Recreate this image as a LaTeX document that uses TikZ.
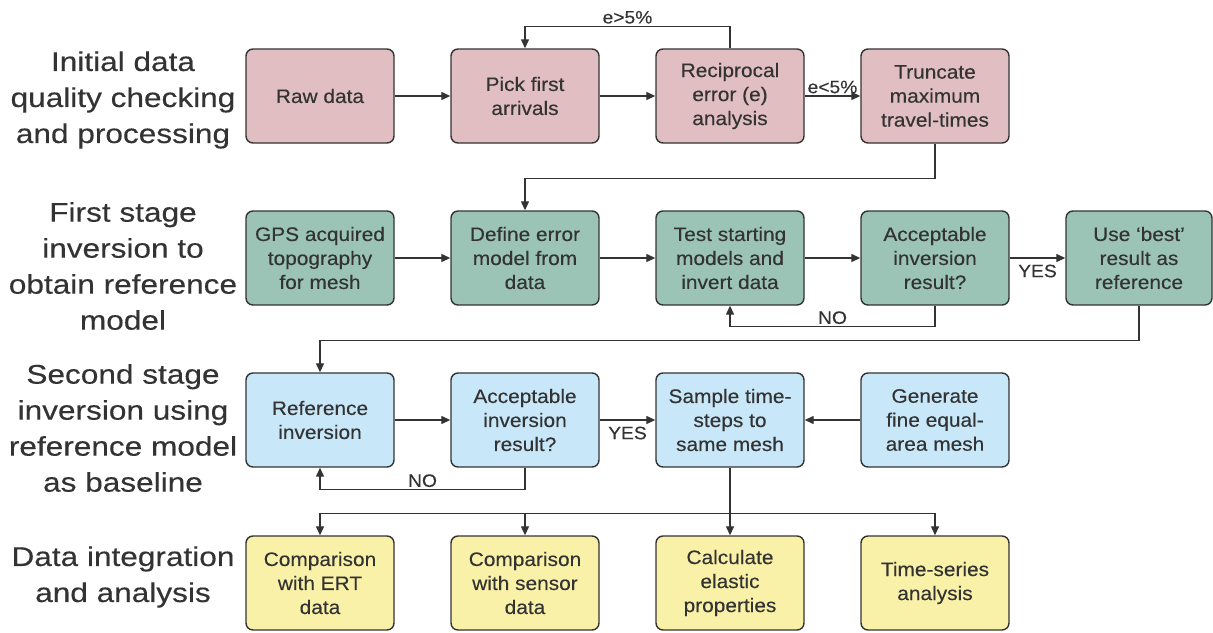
\documentclass[tikz,border=0pt]{standalone}
\usepackage{fontspec}
\setmainfont{Liberation Sans}[FakeStretch=1.07, FakeBold=0.25]
\newfontfamily\labfont{Liberation Sans}[FakeStretch=1.17, FakeBold=0.3]
\usetikzlibrary{arrows.meta}
\definecolor{linec}{HTML}{333333}
\definecolor{txt}{HTML}{333333}
\definecolor{pinkf}{HTML}{E0BEC1}
\definecolor{greenf}{HTML}{9BC4B7}
\definecolor{bluef}{HTML}{C8E7F8}
\definecolor{yellowf}{HTML}{FAF1A8}
\tikzset{
  box/.style={draw=linec, line width=1.4pt, rounded corners=7pt,
    minimum width=148pt, minimum height=94pt, align=center, text=txt,
    inner sep=0pt, font=\fontsize{19.5}{24}\selectfont},
  pinkbox/.style={box, fill=pinkf},
  greenbox/.style={box, fill=greenf},
  bluebox/.style={box, fill=bluef},
  yellowbox/.style={box, fill=yellowf},
  arr/.style={draw=linec, line width=1.3pt, -{Triangle[length=9pt,width=8pt]}},
  lab/.style={text=txt, font=\fontsize{18}{20}\selectfont, inner sep=2pt},
  rowlab/.style={text=txt, align=center, font=\labfont\fontsize{27}{36}\selectfont, inner sep=0pt},
}
\begin{document}
\begin{tikzpicture}[x=1pt,y=-1pt]
\useasboundingbox (0,0) rectangle (1213,632);
% row labels
\node[rowlab] (L1) at (123,100) {Initial data\\quality checking\\and processing};
\node[rowlab] (L2) at (123,266) {First stage\\inversion to\\obtain reference\\model};
\node[rowlab] (L3) at (123,428) {Second stage\\inversion using\\reference model\\as baseline};
\node[rowlab] (L4) at (123,577) {Data integration\\and analysis};
% row 1
\node[pinkbox] (raw) at (320,96) {Raw data};
\node[pinkbox] (pick) at (525,96) {Pick first\\arrivals};
\node[pinkbox] (recip) at (730,96) {Reciprocal\\error (e)\\analysis};
\node[pinkbox] (trunc) at (935,96) {Truncate\\maximum\\travel-times};
% row 2
\node[greenbox] (gps) at (320,258) {GPS acquired\\topography\\for mesh};
\node[greenbox] (define) at (525,258) {Define error\\model from\\data};
\node[greenbox] (test) at (730,258) {Test starting\\models and\\invert data};
\node[greenbox] (acc1) at (935,258) {Acceptable\\inversion\\result?};
\node[greenbox, minimum width=146pt] (best) at (1139,258) {Use ‘best’\\result as\\reference};
% row 3
\node[bluebox] (ref) at (320,420) {Reference\\inversion};
\node[bluebox] (acc2) at (525,420) {Acceptable\\inversion\\result?};
\node[bluebox] (sample) at (730,420) {Sample time-\\steps to\\same mesh};
\node[bluebox] (gen) at (935,420) {Generate\\fine equal-\\area mesh};
% row 4
\node[yellowbox] (ert) at (320,583) {Comparison\\with ERT\\data};
\node[yellowbox] (sensor) at (525,583) {Comparison\\with sensor\\data};
\node[yellowbox] (calc) at (730,583) {Calculate\\elastic\\properties};
\node[yellowbox] (ts) at (935,583) {Time-series\\analysis};
% connectors row 1
\draw[arr] (raw) -- (pick);
\draw[arr] (pick) -- (recip);
\draw[arr] (recip) -- node[lab, above] {e<5\%} (trunc);
\draw[arr] (recip.north) -- ++(0,-22) -| node[lab, pos=0.25, above] {e>5\%} (pick.north);
\draw[arr] (trunc.south) -- ++(0,35) -| (define.north);
% row 2
\draw[arr] (gps) -- (define);
\draw[arr] (define) -- (test);
\draw[arr] (test) -- (acc1);
\draw[arr] (acc1) -- node[lab, below=4pt] {YES} (best);
\draw[arr] (acc1.south) -- ++(0,21) -| node[lab, pos=0.25, above] {NO} (test.south);
\draw[arr] (best.south) -- ++(0,35) -| (ref.north);
% row 3
\draw[arr] (ref) -- (acc2);
\draw[arr] (acc2) -- node[lab, below=4pt] {YES} (sample);
\draw[arr] (gen) -- (sample);
\draw[arr] (acc2.south) -- ++(0,22) -| node[lab, pos=0.25, above] {NO} (ref.south);
% row 4
\draw[arr] (sample.south) -- (calc.north);
\path (sample.south) ++(0,46) coordinate (br);
\draw[arr] (br) -| (ert.north);
\draw[arr] (br) -| (sensor.north);
\draw[arr] (br) -| (ts.north);
\end{tikzpicture}
\end{document}
